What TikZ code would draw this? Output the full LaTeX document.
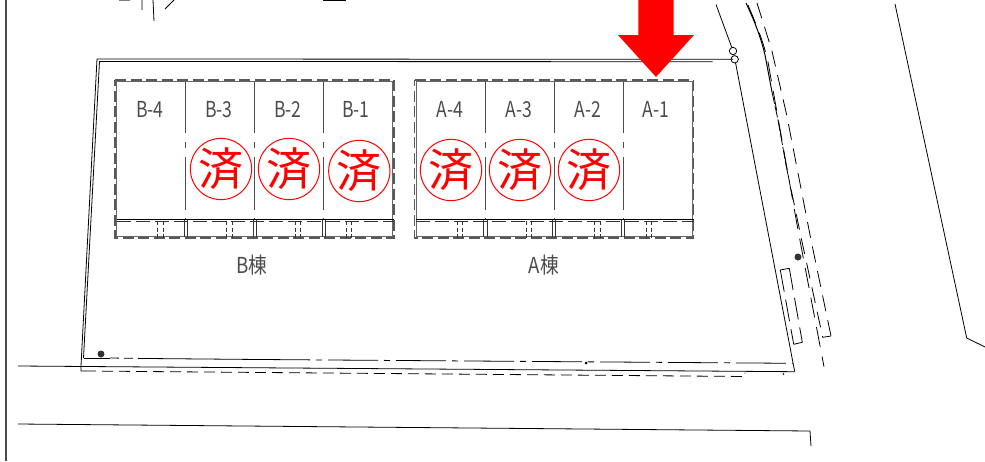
\documentclass[tikz,border=0pt]{standalone}
\usepackage{fontspec}
\newfontfamily\cjk{Noto Sans CJK JP}

\begin{document}
\begin{tikzpicture}[x=1pt,y=-1pt,line width=0.8pt,
  room label/.style={font=\cjk\fontsize{22}{22}\selectfont,xscale=0.8,inner sep=0pt,
  anchor=base,text=black!70},
  block label/.style={font=\cjk\fontsize{22}{22}\selectfont,xscale=0.85,inner sep=0pt,
  anchor=base,text=black!70},
  stamp/.style={circle,draw=red,line width=1pt,text=red,minimum size=61pt,inner sep=0pt,
  font=\cjk\fontsize{45}{45}\selectfont},
  wall/.style={draw=black!60,line width=1pt},
  dash line/.style={draw=black!65,line width=1.1pt,dash pattern=on 11pt off 4.5pt},
  long dash/.style={draw=black,dash pattern=on 20pt off 10pt}]

  \useasboundingbox (0,0) rectangle (985,461);

  % left border and scraps at the top
  \draw[black!70,line width=1.5pt] (6,0) -- (6,461);
  \draw (142,0) -- (142,10) (153,0) -- (154,21) (165,9) -- (174,0);
  \draw[black!50] (119,0) -- (130,0);
  \draw (323,0) -- (346,0);

  % the lot
  \draw (733,59.3) -- (97,59) -- (81,366) -- (81,371) -- (85,371);
  \draw (712.7,61.7) -- (99.5,61.5) -- (83.5,358);
  \draw (83.5,358) -- (110,358);
  \draw[dash pattern=on 9pt off 5pt] (110,358) -- (147,358.5);
  \draw (147,358.5) -- (260,359.5);
  \draw[dash pattern=on 50pt off 6pt on 6pt off 6pt] (260,359.5) -- (793,363.3);
  \draw (18,366) -- (794.7,371.7);
  \draw[dash pattern=on 11pt off 6pt] (85,371) -- (745,376.5) -- (745,372.5);
  \draw (735.5,62.5) -- (794.7,371.7);
  \draw (716,4.5) -- (731.8,47.5);
  \draw (733,51) circle (3.7) (734.7,59.3) circle (3.7);

  % the road below and the far side
  \draw (18,424) -- (810,431) -- (811,446);
  \draw (895,4) -- (966.7,338) -- (985,347);

  % the road on the right
  \draw[line width=1pt] (746,3) .. controls (755,22) and (761,38) .. (765,55)
    -- (772,92);
  \draw[dash pattern=on 12pt off 2pt] (772,92) -- (778,120) -- (786,165);
  \draw[long dash] (748,5) .. controls (756,24) and (763,40) .. (768,62)
    -- (798,230) -- (824,366.7);
  \draw[dash pattern=on 16pt off 9pt] (757,3) -- (771.7,50) -- (786.7,115) -- (811,240) -- (831,336);
  \draw (822.7,337.3) -- (831,336);
  \draw[dash pattern=on 16pt off 9pt] (786,165) -- (802,241.7) -- (822.7,337.3);

  % the small box beside the lot
  \draw (780.3,270) -- (789.3,268.3) (793.7,344.3) -- (802.3,342.3);
  \draw[dash pattern=on 22pt off 8pt] (780.3,270) -- (793.7,344.3) (789.3,268.3) -- (802.3,342.3);

  % markers
  \foreach \mx/\my in {101/354,798/257}
    \fill[black!80] (\mx,\my) circle (3.5);
  \fill (586,363) circle (1.5);
  \fill (783.5,374) circle (0.8);

  % the two blocks
  \foreach \ox/\name in {0/B,299.5/A} {
    \begin{scope}[xshift=\ox pt]
      \draw[wall] (116.5,81.5) rectangle (392.5,236.5);
      \draw[dash line] (115,80) -- (394,80) -- (394,238) -- (115,238) -- cycle;
      \draw (116.5,219.3) -- (394,219.3);
      \draw[black!80,dash pattern=on 14pt off 5pt] (116.5,221.5) -- (394,221.5);
      \foreach \dx in {185.7,254.5,323.5} {
        \draw[black!70,dash pattern=on 51pt off 9pt on 6pt off 9pt on 53pt off 8pt on 2pt]
          (\dx,82) -- (\dx,219);
        \draw[black!80] (\dx-1.5,220) -- (\dx-1.5,237) (\dx+1.7,220) -- (\dx+1.7,237);
      }
      \foreach \dx in {157.7,163.3,226.7,232,295,300.7,346.5,351.7}
        \draw[black!80,dash pattern=on 4pt off 2.5pt] (\dx,221) -- (\dx,240);
    \end{scope}
  }

  % labels
  \foreach \lx/\lname in {150/B-4,219/B-3,288/B-2,356/B-1,450/A-4,519/A-3,588/A-2,656/A-1}
    \node[room label] (room \lname) at (\lx,117.5) {\lname};
  \node[block label] (block B) at (252,273) {B棟};
  \node[block label] (block A) at (544,273) {A棟};

  % stamps
  \node[stamp] (done B3) at (221,169) {済};
  \node[stamp] (done B2) at (289,169) {済};
  \node[stamp] (done B1) at (359.3,171) {済};
  \node[stamp] (done A4) at (451,170) {済};
  \node[stamp] (done A3) at (520,170) {済};
  \node[stamp] (done A2) at (589,170) {済};

  % arrow
  \fill[red] (638.3,0) -- (673.7,0) -- (673.7,35) -- (694,35) -- (656,77)
    -- (618,35) -- (638.3,35) -- cycle;
\end{tikzpicture}
\end{document}
